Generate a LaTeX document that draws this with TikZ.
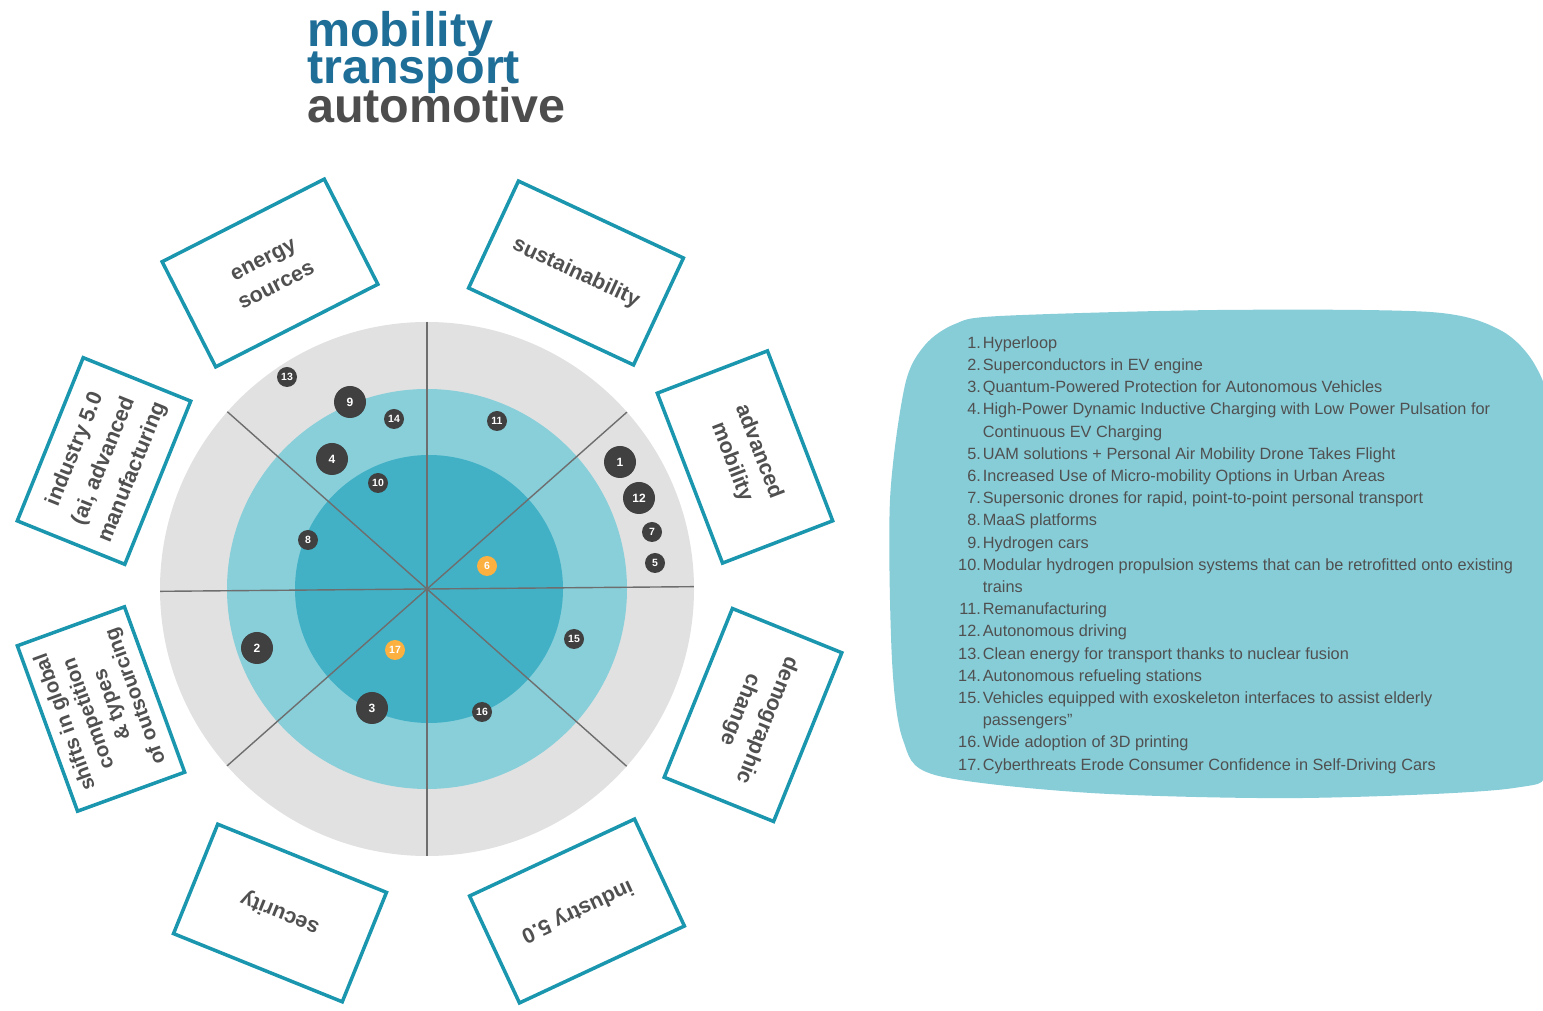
\documentclass[tikz,border=0pt]{standalone}
\usepackage{fontspec}
\setmainfont{Liberation Sans}
\usepackage{xcolor}
\usepackage{tikz}
\usetikzlibrary{positioning}
\definecolor{ringgray}{HTML}{E1E1E1}
\definecolor{ringlight}{HTML}{88CFDA}
\definecolor{ringdark}{HTML}{42B1C6}
\definecolor{spokegray}{HTML}{6E6E6E}
\definecolor{boxteal}{HTML}{1A96AE}
\definecolor{dotgray}{HTML}{404040}
\definecolor{dotorange}{HTML}{FBB040}
\definecolor{titleblue}{HTML}{1F6E98}
\definecolor{titlegray}{HTML}{4D4D4D}
\definecolor{textgray}{HTML}{505050}
\definecolor{listteal}{HTML}{87CDD8}

\begin{document}
\begin{tikzpicture}[x=1pt, y=1pt,
    titletext/.style={anchor=base west, inner sep=0pt, font=\bfseries\fontsize{48.5}{40}\selectfont},
    topicbox/.style={draw=boxteal, line width=3.5pt, fill=white, minimum width=182pt,
                     minimum height=118pt, align=center, text=textgray,
                     font=\bfseries\fontsize{21.5}{29}\selectfont},
    dot/.style={circle, fill=dotgray, text=white, inner sep=0pt, minimum size=20pt,
                font=\bfseries\fontsize{10.5}{10.5}\selectfont},
    bigdot/.style={dot, minimum size=32pt, font=\bfseries\fontsize{12}{12}\selectfont},
    hotdot/.style={dot, fill=dotorange}]
  \useasboundingbox (0,0) rectangle (1543,1010);

  % title
  \node[titletext, text=titleblue] (tmob) at (307,963) {mobility};
  \node[titletext, text=titleblue] (ttra) at (307,926) {transport};
  \node[titletext, text=titlegray] (taut) at (307,887) {automotive};

  % radar rings and spokes
  \coordinate (c) at (427,421);
  \fill[ringgray] (c) circle[radius=267];
  \fill[ringlight] (c) circle[radius=200];
  \fill[ringdark] (429,421) circle[radius=134];
  \foreach \a in {0.5,41.5,90,138.4}
    \draw[spokegray, line width=1.4pt] ([shift={(\a:267)}]c) -- ([shift={(\a+180:267)}]c);

  % topic boxes
  \node[topicbox, rotate=27] (energy) at (270,737) {energy\\sources};
  \node[topicbox, rotate=-25] (sustain) at (576,737) {sustainability};
  \node[topicbox, rotate=-69] (advmob) at (745,553) {advanced\\mobility};
  \node[topicbox, rotate=-112] (demo) at (753,295) {demographic\\change};
  \node[topicbox, rotate=-155] (ind) at (577,99) {industry 5.0};
  \node[topicbox, rotate=158] (secur) at (280,97) {security};
  \node[topicbox, rotate=110, minimum width=176pt, minimum height=114pt,
        font=\bfseries\fontsize{20.5}{25}\selectfont] (shifts) at (101,301)
        {shifts in global\\competition\\\& types\\of outsourcing};
  \node[topicbox, rotate=68, minimum width=176pt, minimum height=116pt,
        font=\bfseries\fontsize{21.5}{31}\selectfont] (indai) at (104,549)
        {industry 5.0\\(ai, advanced\\manufacturing};

  % trend dots
  \foreach \n/\x/\y/\s in {13/287/633/dot, 9/350/608/bigdot, 14/394/591/dot,
      11/497/589/dot, 4/332/551/bigdot, 10/378/527/dot, 1/620/548/bigdot,
      12/639/512/bigdot, 7/652/478/dot, 5/655/447/dot, 8/308/470/dot,
      6/487/444/hotdot, 15/574/371/dot, 2/257/362/bigdot, 17/395/360/hotdot,
      3/372/302/bigdot, 16/482/298/dot}
    \node[\s] (d\n) at (\x,\y) {\n};

  % legend
  \fill[listteal] plot[smooth cycle] coordinates {(955,686) (1000,694) (1218,700)
      (1430,698) (1500,680) (1535,645) (1550,590) (1552,410) (1548,250) (1514,222)
      (1303,212) (1091,217) (935,235) (903,270) (892,350) (890,510) (905,625)
      (925,665)};
  \node[anchor=north west, inner sep=0pt, text=textgray,
        font=\fontsize{16.3}{22.2}\selectfont] (legend) at (958,677.5) {%
    \begin{tabular}{@{}r@{\hspace{2pt}}l@{}}
      1.&Hyperloop\\
      2.&Superconductors in EV engine\\
      3.&Quantum-Powered Protection for Autonomous Vehicles\\
      4.&High-Power Dynamic Inductive Charging with Low Power Pulsation for\\
        &Continuous EV Charging\\
      5.&UAM solutions + Personal Air Mobility Drone Takes Flight\\
      6.&Increased Use of Micro-mobility Options in Urban Areas\\
      7.&Supersonic drones for rapid, point-to-point personal transport\\
      8.&MaaS platforms\\
      9.&Hydrogen cars\\
      10.&Modular hydrogen propulsion systems that can be retrofitted onto existing\\
        &trains\\
      11.&Remanufacturing\\
      12.&Autonomous driving\\
      13.&Clean energy for transport thanks to nuclear fusion\\
      14.&Autonomous refueling stations\\
      15.&Vehicles equipped with exoskeleton interfaces to assist elderly\\
        &passengers"\\
      16.&Wide adoption of 3D printing\\
      17.&Cyberthreats Erode Consumer Confidence in Self-Driving Cars
    \end{tabular}};
\end{tikzpicture}
\end{document}
